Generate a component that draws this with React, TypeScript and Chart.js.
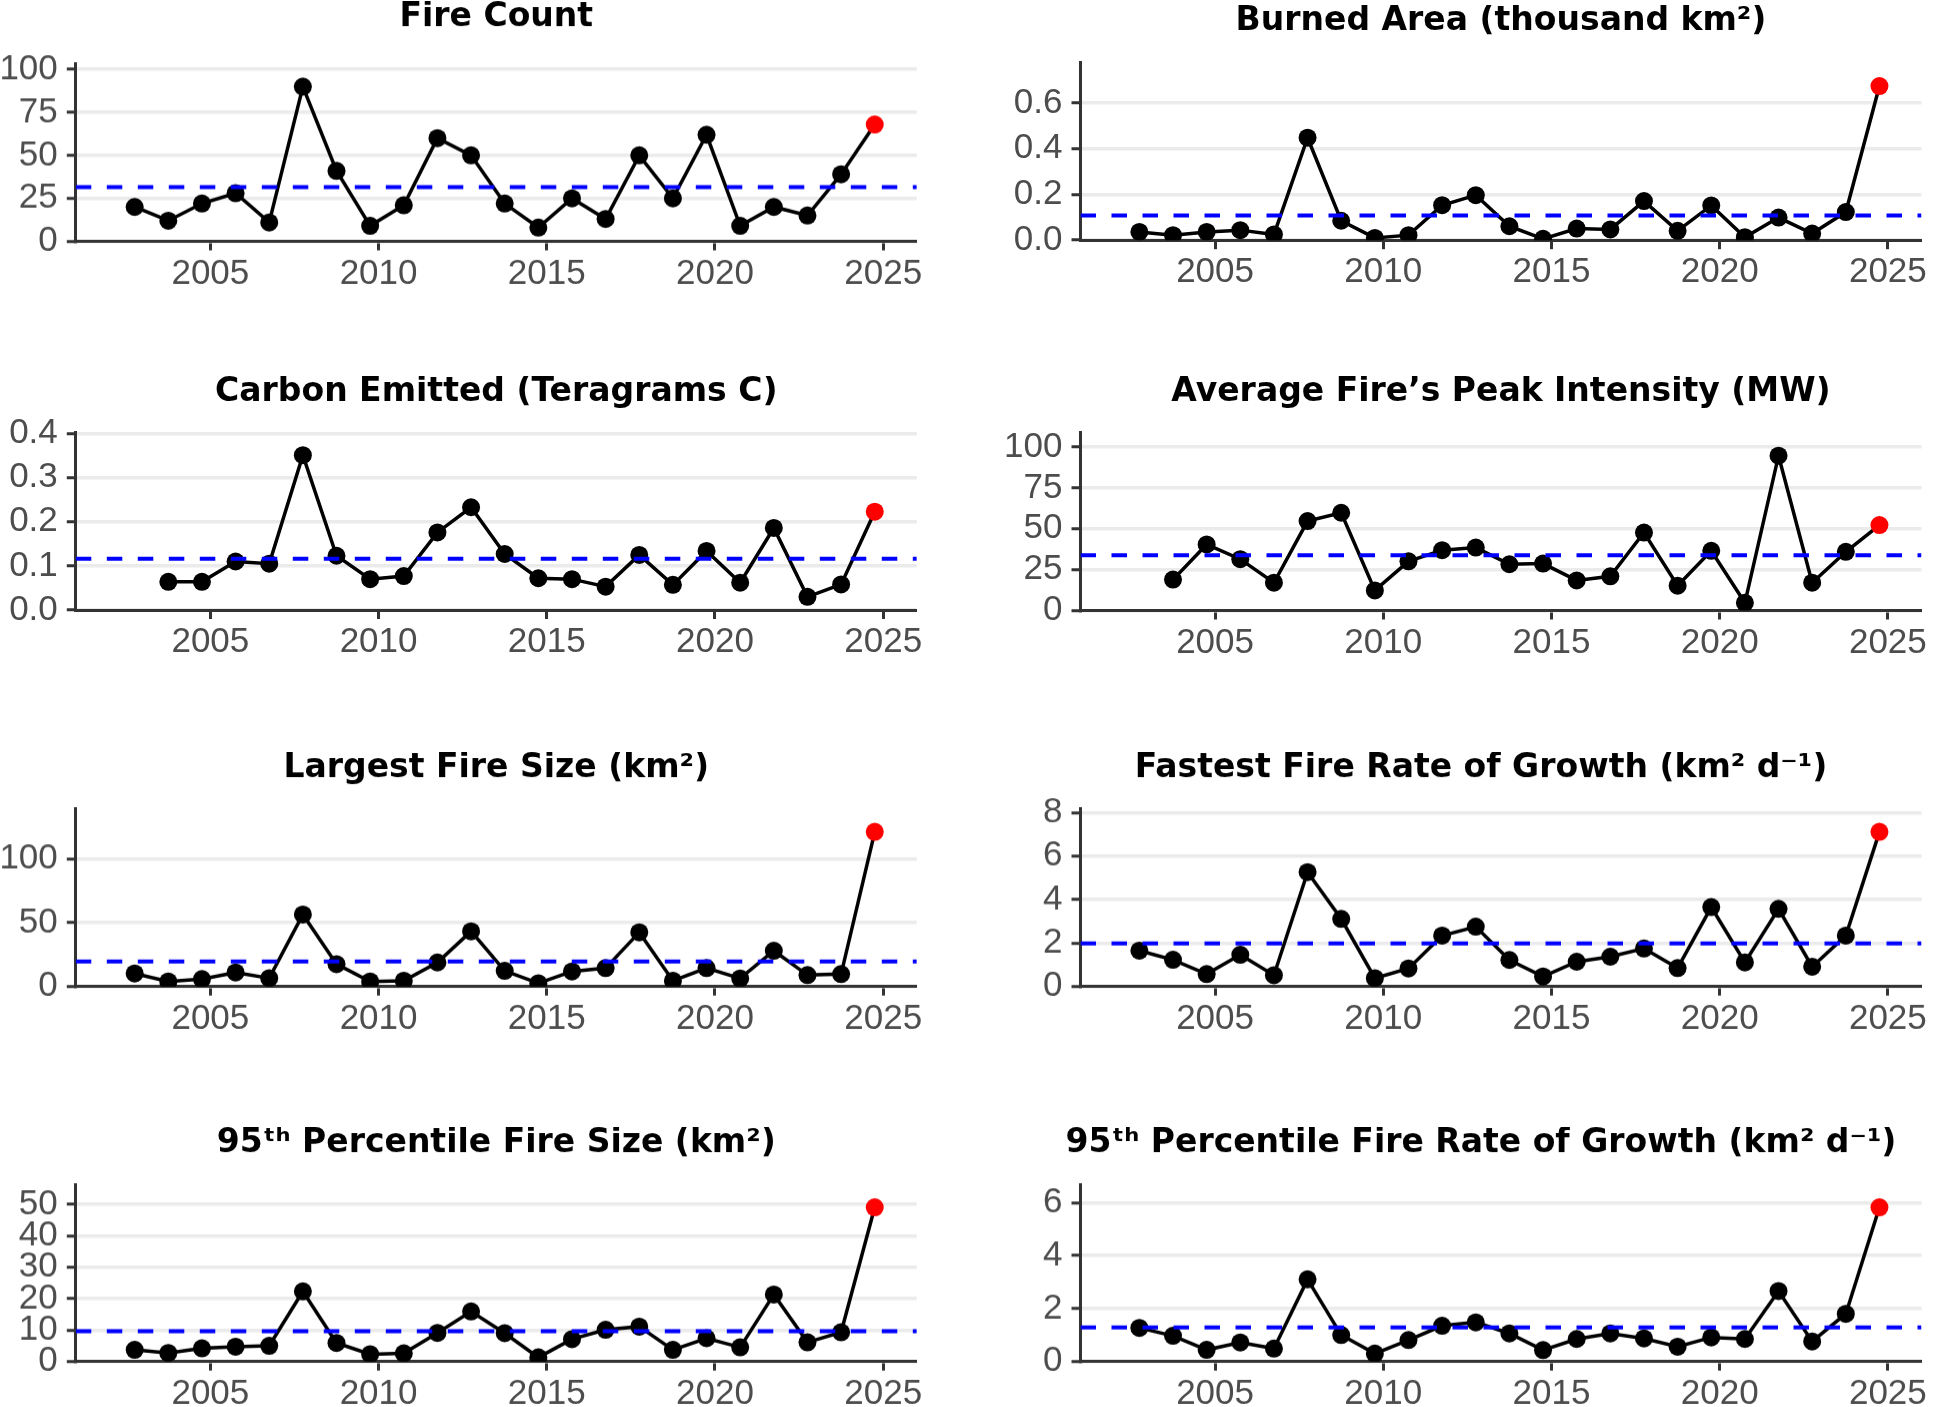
import React, { useEffect, useRef } from "react";
import { Chart, registerables } from "chart.js";

Chart.register(...registerables);

// ---------------- data ----------------
const years = [
  2003, 2004, 2005, 2006, 2007, 2008, 2009, 2010, 2011, 2012, 2013, 2014,
  2015, 2016, 2017, 2018, 2019, 2020, 2021, 2022, 2023, 2024, 2025,
];

const fireCount = [20, 12, 22, 28, 11, 90, 41, 9, 21, 60, 50, 22, 8, 25, 13, 50, 25, 62, 9, 20, 15, 39, 68];
const burnedArea = [0.036, 0.022, 0.036, 0.044, 0.025, 0.448, 0.085, 0.01, 0.022, 0.153, 0.197, 0.061, 0.006, 0.051, 0.047, 0.171, 0.041, 0.152, 0.013, 0.099, 0.029, 0.123, 0.674];
const carbonEmitted = [null, 0.064, 0.064, 0.11, 0.105, 0.351, 0.123, 0.07, 0.077, 0.176, 0.233, 0.127, 0.072, 0.07, 0.053, 0.125, 0.057, 0.134, 0.062, 0.186, 0.03, 0.058, 0.223];
const peakIntensity = [null, 18.9, 40.4, 31.4, 17.0, 54.7, 59.8, 12.3, 30.1, 36.9, 38.5, 28.3, 28.7, 18.4, 20.9, 47.7, 15.2, 36.5, 4.7, 94.7, 17.0, 35.9, 52.3];
const largestFire = [10.2, 3.9, 5.8, 11.0, 6.5, 56.3, 17.5, 3.9, 4.5, 18.8, 43.2, 12.3, 2.6, 11.8, 14.4, 42.4, 4.5, 14.4, 6.3, 28.0, 8.9, 9.7, 120.9];
const fastestGrowth = [1.65, 1.23, 0.57, 1.46, 0.52, 5.26, 3.11, 0.38, 0.83, 2.34, 2.75, 1.22, 0.46, 1.14, 1.37, 1.75, 0.85, 3.65, 1.11, 3.57, 0.91, 2.34, 7.11];
const p95Size = [3.7, 2.7, 4.2, 4.7, 5.0, 22.3, 5.9, 2.3, 2.6, 9.1, 15.9, 9.0, 1.3, 7.1, 10.1, 11.1, 3.7, 7.4, 4.5, 21.3, 6.1, 9.3, 49.0];
const p95Growth = [1.27, 0.97, 0.44, 0.72, 0.49, 3.1, 1.0, 0.3, 0.81, 1.35, 1.48, 1.06, 0.43, 0.85, 1.06, 0.87, 0.56, 0.91, 0.85, 2.66, 0.76, 1.8, 5.82];

// long-term mean reference lines
const meanFireCount = 31.5;
const meanBurnedArea = 0.108;
const meanCarbon = 0.116;
const meanIntensity = 33.8;
const meanLargest = 19.6;
const meanFastest = 1.98;
const meanP95Size = 9.6;
const meanP95Growth = 1.29;

// tick labels
const xTicks = [2005, 2010, 2015, 2020, 2025];
const fireCountTicks = [0, 25, 50, 75, 100];
const burnedAreaTicks = [0, 0.2, 0.4, 0.6];
const carbonTicks = [0, 0.1, 0.2, 0.3, 0.4];
const intensityTicks = [0, 25, 50, 75, 100];
const largestTicks = [0, 50, 100];
const fastestTicks = [0, 2, 4, 6, 8];
const p95SizeTicks = [0, 10, 20, 30, 40, 50];
const p95GrowthTicks = [0, 2, 4, 6];

// ---------------- layout / style ----------------
const X_MIN = 2001;
const X_MAX = 2026;
const SEASON_OFFSET = -0.25; // each season's point sits a quarter-year before the year tick
const TITLE_FONT = "'DejaVu Sans', 'Liberation Sans', sans-serif";
const TITLE_SIZE = 33;
const TITLE_MID_TO_BASE = 11.5;
const TICK_FONT = "'Liberation Sans', Arial, Helvetica, sans-serif";
const COL_W = 969;
const X_AXIS_H = 62;

type Spec = {
  title: string;
  values: (number | null)[];
  ticks: number[];
  decimals: number;
  mean: number;
  col: 0 | 1;
  titleBase: number;
  titleShift: number;
  plotTop: number;
  plotBottom: number;
};

const specs: Spec[] = [
  { title: "Fire Count", values: fireCount, ticks: fireCountTicks, decimals: 0, mean: meanFireCount, col: 0, titleBase: 29, titleShift: 0, plotTop: 63.2, plotBottom: 240.5 },
  { title: "Burned Area (thousand km²)", values: burnedArea, ticks: burnedAreaTicks, decimals: 1, mean: meanBurnedArea, col: 1, titleBase: 33.3, titleShift: 0, plotTop: 63.2, plotBottom: 240.5 },
  { title: "Carbon Emitted (Teragrams C)", values: carbonEmitted, ticks: carbonTicks, decimals: 1, mean: meanCarbon, col: 0, titleBase: 404, titleShift: 0, plotTop: 432, plotBottom: 610 },
  { title: "Average Fire’s Peak Intensity (MW)", values: peakIntensity, ticks: intensityTicks, decimals: 0, mean: meanIntensity, col: 1, titleBase: 403.5, titleShift: 0, plotTop: 432, plotBottom: 610 },
  { title: "Largest Fire Size (km²)", values: largestFire, ticks: largestTicks, decimals: 0, mean: meanLargest, col: 0, titleBase: 780, titleShift: 0, plotTop: 808.5, plotBottom: 985.7 },
  { title: "Fastest Fire Rate of Growth (km² d⁻¹)", values: fastestGrowth, ticks: fastestTicks, decimals: 0, mean: meanFastest, col: 1, titleBase: 780, titleShift: -20, plotTop: 808.5, plotBottom: 985.7 },
  { title: "95ᵗʰ Percentile Fire Size (km²)", values: p95Size, ticks: p95SizeTicks, decimals: 0, mean: meanP95Size, col: 0, titleBase: 1155, titleShift: 0, plotTop: 1184, plotBottom: 1360.7 },
  { title: "95ᵗʰ Percentile Fire Rate of Growth (km² d⁻¹)", values: p95Growth, ticks: p95GrowthTicks, decimals: 0, mean: meanP95Growth, col: 1, titleBase: 1155, titleShift: -20, plotTop: 1184, plotBottom: 1360.7 },
];

function Panel({ spec }: { spec: Spec }) {
  const ref = useRef<HTMLCanvasElement>(null);
  const colLeft = spec.col === 0 ? 0 : COL_W;
  const plotLeft = spec.col === 0 ? 75.8 : 1080.5;
  const plotRight = spec.col === 0 ? 916.8 : 1921.5;
  const canvasTop = spec.titleBase - (TITLE_SIZE / 2 + TITLE_MID_TO_BASE);
  const height = spec.plotBottom - canvasTop + X_AXIS_H;
  const titlePadBottom = spec.plotTop - canvasTop - TITLE_SIZE;

  useEffect(() => {
    const nums = spec.values.filter((v): v is number => v !== null);
    const yMax = Math.max(...nums) * 1.15;
    const last = years.length - 1;
    const shiftPlugin = {
      id: "titleShift",
      afterLayout(chart: any) {
        const tb = chart.titleBlock;
        if (tb && spec.titleShift) {
          tb.left += spec.titleShift;
          tb.right += spec.titleShift;
        }
      },
    };
    const chart = new Chart(ref.current as HTMLCanvasElement, {
      type: "line",
      data: {
        datasets: [
          {
            label: "mean",
            data: [
              { x: X_MIN, y: spec.mean },
              { x: X_MAX, y: spec.mean },
            ],
            borderColor: "#0000FF",
            borderWidth: 4,
            borderDash: [15.5, 15.5],
            pointRadius: 0,
            fill: false,
            tension: 0,
          },
          {
            label: spec.title,
            data: years.map((yr, i) => ({ x: yr + SEASON_OFFSET, y: spec.values[i] })),
            borderColor: "#000000",
            borderWidth: 3.5,
            pointRadius: 9,
            pointBorderWidth: 0,
            pointBackgroundColor: years.map((_, i) => (i === last ? "#FF0000" : "#000000")),
            pointBorderColor: years.map((_, i) => (i === last ? "#FF0000" : "#000000")),
            fill: false,
            tension: 0,
            spanGaps: false,
          },
        ],
      },
      plugins: [shiftPlugin],
      options: {
        animation: false,
        responsive: true,
        maintainAspectRatio: false,
        events: [],
        layout: { padding: { left: 0, right: colLeft + COL_W - plotRight, top: 0, bottom: 0 } },
        plugins: {
          legend: { display: false },
          tooltip: { enabled: false },
          title: {
            display: true,
            text: spec.title,
            color: "#000000",
            fullSize: false,
            font: { family: TITLE_FONT, size: TITLE_SIZE, weight: "bold", lineHeight: 1 },
            padding: { top: 0, bottom: titlePadBottom },
          },
        },
        scales: {
          x: {
            type: "linear",
            min: X_MIN,
            max: X_MAX,
            afterBuildTicks: (s: any) => {
              s.ticks = xTicks.map((v) => ({ value: v }));
            },
            afterFit: (s: any) => {
              s.height = X_AXIS_H;
            },
            grid: { drawOnChartArea: false, drawTicks: true, tickLength: 9, tickColor: "#333333", tickWidth: 3 },
            border: { display: true, color: "#333333", width: 3 },
            ticks: {
              color: "#4D4D4D",
              font: { family: TICK_FONT, size: 35, lineHeight: 1 },
              padding: 6,
              maxRotation: 0,
              autoSkip: false,
              callback: (v: any) => String(v),
            },
          },
          y: {
            type: "linear",
            min: 0,
            max: yMax,
            afterBuildTicks: (s: any) => {
              s.ticks = spec.ticks.map((v) => ({ value: v }));
            },
            afterFit: (s: any) => {
              s.width = plotLeft - colLeft;
            },
            grid: { color: "#EBEBEB", lineWidth: 3.5, drawTicks: true, tickLength: 9, tickColor: "#333333", tickWidth: 3 },
            border: { display: true, color: "#333333", width: 3 },
            ticks: {
              color: "#4D4D4D",
              font: { family: TICK_FONT, size: 35, lineHeight: 1 },
              padding: 9,
              autoSkip: false,
              callback: (v: any) => Number(v).toFixed(spec.decimals),
            },
          },
        },
      },
    } as any);
    return () => chart.destroy();
  }, []);

  return (
    <div style={{ position: "absolute", left: colLeft, top: canvasTop, width: COL_W, height }}>
      <canvas ref={ref} />
    </div>
  );
}

export default function App() {
  useEffect(() => {
    document.body.style.margin = "0";
    document.body.style.overflow = "hidden";
  }, []);
  return (
    <div
      style={{
        position: "absolute",
        left: 0,
        top: 0,
        width: 1938,
        height: 1407,
        overflow: "hidden",
        background: "#FFFFFF",
      }}
    >
      {specs.map((s, i) => (
        <Panel key={i} spec={s} />
      ))}
    </div>
  );
}
